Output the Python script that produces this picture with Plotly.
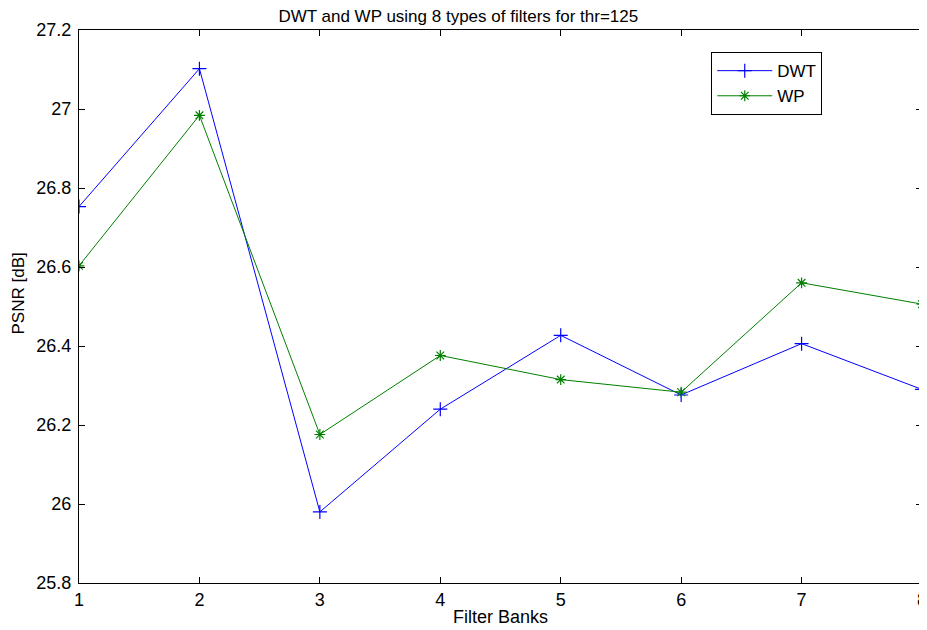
import plotly.graph_objects as go

filter_banks = [1, 2, 3, 4, 5, 6, 7, 8]
dwt = [26.753, 27.102, 25.980, 26.240, 26.427, 26.276, 26.406, 26.290]
wp = [26.603, 26.984, 26.176, 26.376, 26.315, 26.283, 26.560, 26.506]
x_ticks = [1, 2, 3, 4, 5, 6, 7, 8]
y_ticks = [25.8, 26, 26.2, 26.4, 26.6, 26.8, 27, 27.2]
y_tick_text = ["25.8", "26", "26.2", "26.4", "26.6", "26.8", "27", "27.2"]

FONT = "Liberation Sans"
W, H = 919, 622          # page has an 8px body margin
ML, MR, MT, MB = 71, 5, 22, 47

fig = go.Figure()
fig.add_trace(go.Scatter(
    x=filter_banks, y=dwt, name="DWT", mode="lines+markers",
    line=dict(color="#0000ff", width=1),
    marker=dict(symbol="cross-thin-open", size=10, color="#0000ff",
                line=dict(color="#0000ff", width=1.2)),
))
fig.add_trace(go.Scatter(
    x=filter_banks, y=wp, name="WP", mode="lines+markers",
    line=dict(color="#008000", width=1),
    marker=dict(symbol="asterisk-open", size=9, color="#008000",
                line=dict(color="#008000", width=1.2)),
))

axis_common = dict(
    showgrid=False, zeroline=False, showline=True, linecolor="black",
    linewidth=1, mirror="ticks", ticks="inside", ticklen=6,
    tickcolor="black", automargin=False,
    tickfont=dict(family=FONT, size=18, color="black"),
)

plot_h = H - MT - MB
fig.update_layout(
    width=W, height=H,
    margin=dict(l=ML, r=MR, t=MT, b=MB),
    paper_bgcolor="white", plot_bgcolor="white",
    title=dict(text="DWT and WP using 8 types of filters for thr=125",
               x=0.49, xanchor="center", y=1 - 8 / H, yanchor="middle",
               font=dict(family=FONT, size=17, color="black")),
    xaxis=dict(range=[1, 8.00001], tickvals=x_ticks, ticktext=[str(v) for v in x_ticks],
               ticklabeloverflow="allow",
               title=dict(text="Filter Banks", standoff=1,
                          font=dict(family=FONT, size=18, color="black")),
               **axis_common),
    yaxis=dict(range=[25.8, 27.20001], tickvals=y_ticks, ticktext=y_tick_text,
               ticklabelstandoff=3, **axis_common),
    legend=dict(x=0.75, y=0.96, xanchor="left", yanchor="top",
                bgcolor="white", bordercolor="black", borderwidth=1,
                font=dict(family=FONT, size=17, color="black"),
                tracegroupgap=0, itemwidth=55),
    showlegend=True,
    annotations=[dict(
        text="PSNR [dB]", textangle=-90, showarrow=False,
        xref="paper", yref="paper",
        x=(10 - ML) / (W - ML - MR), y=(575 - 285.5) / plot_h,
        xanchor="center", yanchor="middle",
        font=dict(family=FONT, size=17, color="black"),
    )],
)

fig.write_html("out.html")
